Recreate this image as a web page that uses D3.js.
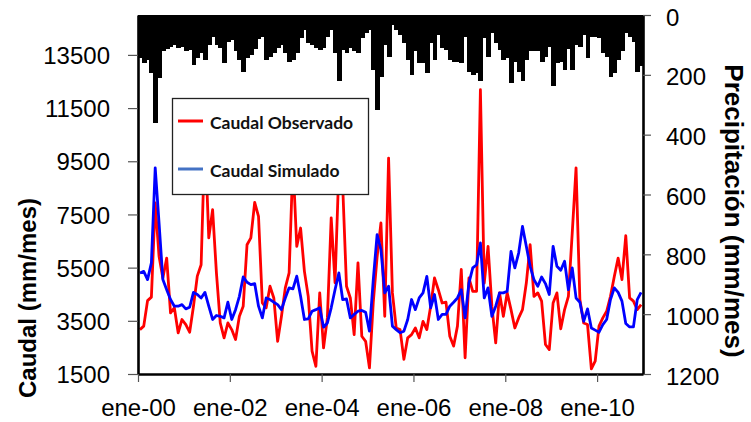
<!DOCTYPE html>
<html>
<head>
<meta charset="utf-8">
<script src="https://cdn.jsdelivr.net/npm/d3@7"></script>
<style>
  body { margin: 0; background: #fff; }
  .tick text { font-family: "Liberation Sans", Arial, sans-serif; font-size: 24px; fill: #000; }
  .axis-title { font-family: "Liberation Sans", Arial, sans-serif; font-size: 24px; font-weight: bold; fill: #000; }
  .legend-text { font-family: Lato, "Open Sans", sans-serif; font-size: 17.5px; font-weight: bold; fill: #111; }
</style>
</head>
<body>
<div id="chart"></div>
<script>
// monthly series, ene-2000 .. dic-2010 (132 months)
var caudalObservado = [
  3170, 3300, 4260, 4390, 7930, 5930, 5110, 5860, 3800, 3990, 3050, 3550,
  3360, 3070, 4050, 5180, 5610, 10500, 6620, 7680, 5300, 3420, 2860, 3420,
  3170, 2800, 3670, 4050, 6360, 6620, 7950, 7430, 4170, 3990, 4800, 4360,
  2730, 3670, 4740, 5300, 9500, 6300, 6990, 5360, 4420, 2360, 1790, 4550,
  2480, 3610, 7370, 4930, 9200, 8600, 4800, 4360, 2980, 5680, 2920, 2730,
  1730, 4200, 5900, 7180, 3670, 9620, 4550, 3230, 3170, 2050, 2860, 2980,
  3230, 2860, 3480, 3170, 4050, 5110, 4670, 4170, 4200, 2920, 2550, 3300,
  5430, 2110, 5110, 4610, 4610, 12190, 4920, 6300, 4050, 2670, 4550, 3670,
  4550, 3920, 3230, 3610, 3920, 4920, 6360, 4420, 4550, 4240, 2610, 2420,
  4170, 4550, 3200, 3920, 4420, 6800, 9250, 4300, 3420, 3360, 1690, 1980,
  3300, 3610, 3860, 4420, 5170, 5860, 5050, 6700, 4360, 4240, 3920, 4110
];

var caudalSimulado = [
  5300, 5360, 5050, 5680, 9250, 7180, 5050, 4670, 4300, 4050, 4050, 4110,
  3950, 4010, 4570, 4490, 4360, 4570, 4050, 3550, 3700, 3670, 3610, 4200,
  3550, 3920, 4420, 5150, 4950, 4860, 4900, 4050, 3610, 4360, 4300, 4200,
  4110, 3920, 4360, 4740, 4700, 5180, 4420, 3550, 3570, 3860, 3920, 3990,
  3260, 3420, 3990, 4670, 5300, 4300, 4320, 3610, 3740, 3860, 3890, 3820,
  3110, 5050, 6740, 6180, 4550, 4800, 3300, 3170, 3050, 3110, 3550, 4300,
  3920, 4360, 4550, 5170, 3990, 4490, 3550, 3740, 3740, 4050, 4200, 4360,
  4670, 3610, 4920, 5490, 5610, 6430, 4360, 4740, 3670, 4050, 4550, 4550,
  4610, 6110, 5490, 6050, 7050, 6300, 5550, 5050, 4800, 5150, 4900, 4490,
  6300, 5550, 5400, 5740, 4670, 5490, 4360, 4200, 3480, 3950, 3230, 3150,
  3070, 3360, 3550, 4300, 4740, 4570, 4240, 3400, 3270, 3270, 4300, 4570
];

var precipitacion = [
  144, 161, 150, 194, 361, 211, 122, 114, 106, 100, 111, 106,
  122, 117, 167, 144, 128, 150, 100, 72, 100, 111, 161, 89,
  83, 122, 150, 189, 144, 133, 115, 80, 72, 150, 139, 128,
  111, 100, 128, 156, 150, 128, 78, 50, 94, 100, 111, 117,
  111, 72, 50, 128, 222, 117, 128, 111, 122, 128, 78, 61,
  50, 183, 317, 206, 100, 139, 33, 50, 67, 94, 150, 200,
  122, 161, 161, 194, 94, 150, 67, 111, 117, 150, 156, 156,
  161, 72, 189, 200, 194, 222, 78, 139, 61, 94, 117, 150,
  144, 226, 156, 189, 219, 150, 122, 119, 122, 156, 139, 106,
  237, 161, 156, 183, 114, 183, 100, 106, 67, 144, 72, 72,
  78, 128, 139, 206, 194, 150, 122, 61, 72, 89, 189, 172
];

var xTickMonths = [0, 24, 48, 72, 96, 120];
var xTickLabels = ["ene-00", "ene-02", "ene-04", "ene-06", "ene-08", "ene-10"];
var caudalTicks = [1500, 3500, 5500, 7500, 9500, 11500, 13500];
var precipTicks = [0, 200, 400, 600, 800, 1000, 1200];

var width = 751, height = 422;
var plot = { left: 138, right: 643, top: 15, bottom: 374 };

var svg = d3.select("#chart").append("svg")
  .attr("width", width)
  .attr("height", height);

var x = d3.scaleLinear().domain([0, caudalObservado.length]).range([plot.left, plot.right]);
var yQ = d3.scaleLinear().domain([1500, 15000]).range([plot.bottom, plot.top]);
var yP = d3.scaleLinear().domain([0, 1200]).range([plot.top, plot.bottom]);

// precipitation bars hanging from the top
svg.append("g")
  .attr("shape-rendering", "crispEdges")
  .selectAll("rect")
  .data(precipitacion)
  .enter().append("rect")
  .attr("x", function(d, i) { return x(i); })
  .attr("y", yP(0))
  .attr("width", x(1) - x(0) + 1)
  .attr("height", function(d) { return yP(d) - yP(0); })
  .attr("fill", "#000");

var line = d3.line()
  .x(function(d, i) { return x(i + 0.5); })
  .y(function(d) { return yQ(d); });

svg.append("path")
  .datum(caudalObservado)
  .attr("d", line)
  .attr("fill", "none")
  .attr("stroke", "#ff0000")
  .attr("stroke-width", 2.8)
  .attr("stroke-linejoin", "round");

svg.append("path")
  .datum(caudalSimulado)
  .attr("d", line)
  .attr("fill", "none")
  .attr("stroke", "#0000ff")
  .attr("stroke-width", 2.8)
  .attr("stroke-linejoin", "round");

// axes
var fmt = d3.format("d");
var gLeft = svg.append("g")
  .attr("transform", "translate(" + plot.left + ",0)")
  .call(d3.axisLeft(yQ).tickValues(caudalTicks).tickFormat(fmt)
    .tickSize(10).tickSizeOuter(0).tickPadding(18));

var gRight = svg.append("g")
  .attr("transform", "translate(" + plot.right + ",0)")
  .call(d3.axisRight(yP).tickValues(precipTicks).tickFormat(fmt)
    .tickSize(8).tickSizeOuter(0).tickPadding(15));

var gBottom = svg.append("g")
  .attr("transform", "translate(0," + plot.bottom + ")")
  .call(d3.axisBottom(x).tickValues(xTickMonths).tickSize(8).tickSizeOuter(0)
    .tickFormat(function(d, i) { return xTickLabels[i]; }));

[gLeft, gRight, gBottom].forEach(function(g) {
  g.select(".domain").attr("stroke", "#000").attr("stroke-width", 2.6);
  g.selectAll(".tick line").attr("stroke", "#555").attr("stroke-width", 1.2);
});
gBottom.selectAll(".tick text").attr("y", 42).attr("dy", 0);
gLeft.selectAll(".tick text").attr("dy", "0.36em");
gRight.selectAll(".tick text").attr("dy", "0.42em");

// axis titles
svg.append("text")
  .attr("class", "axis-title")
  .attr("transform", "translate(27,298) rotate(-90)")
  .attr("text-anchor", "middle")
  .attr("dominant-baseline", "central")
  .text("Caudal (mm/mes)");

svg.append("text")
  .attr("class", "axis-title")
  .style("font-size", "26px")
  .attr("transform", "translate(734,211) rotate(90)")
  .attr("text-anchor", "middle")
  .attr("dominant-baseline", "central")
  .text("Precipitación (mm/mes)");

// legend
var legend = svg.append("g");
legend.append("rect")
  .attr("x", 172.5).attr("y", 98.5)
  .attr("width", 196).attr("height", 96)
  .attr("fill", "#fff")
  .attr("stroke", "#222")
  .attr("stroke-width", 1.3);

var legendItems = [
  { label: "Caudal Observado", color: "#ff0000", y: 122 },
  { label: "Caudal Simulado", color: "#4472c4", y: 170 }
];
legendItems.forEach(function(d) {
  legend.append("line")
    .attr("x1", 178).attr("x2", 203)
    .attr("y1", d.y - 1).attr("y2", d.y - 1)
    .attr("stroke", d.color)
    .attr("stroke-width", 3);
  legend.append("text")
    .attr("class", "legend-text")
    .attr("x", 210).attr("y", d.y)
    .attr("dominant-baseline", "central")
    .text(d.label);
});
</script>
</body>
</html>
